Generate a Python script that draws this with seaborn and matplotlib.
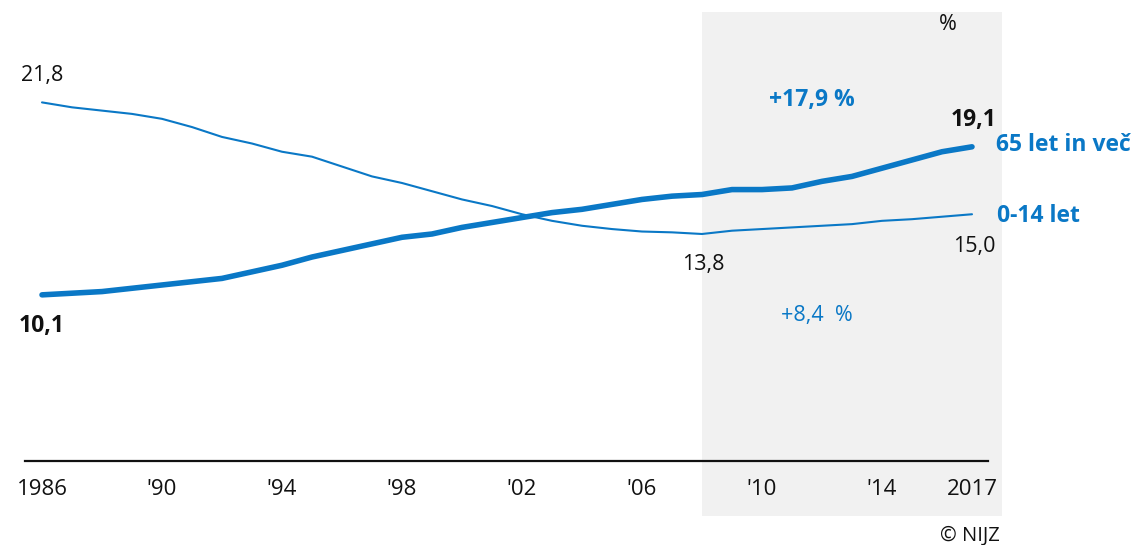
import numpy as np
import pandas as pd
import matplotlib
matplotlib.use("Agg")
import matplotlib.pyplot as plt
import seaborn as sns
from matplotlib.patches import Rectangle

years = list(range(1986, 2018))
age_0_14 = [21.8, 21.5, 21.3, 21.1, 20.8, 20.3, 19.7, 19.3, 18.8, 18.5,
            17.9, 17.3, 16.9, 16.4, 15.9, 15.5, 15.0, 14.6, 14.3, 14.1,
            13.95, 13.9, 13.8, 14.0, 14.1, 14.2, 14.3, 14.4, 14.6, 14.7,
            14.85, 15.0]
age_65_plus = [10.1, 10.2, 10.3, 10.5, 10.7, 10.9, 11.1, 11.5, 11.9, 12.4,
               12.8, 13.2, 13.6, 13.8, 14.2, 14.5, 14.8, 15.1, 15.3, 15.6,
               15.9, 16.1, 16.2, 16.5, 16.5, 16.6, 17.0, 17.3, 17.8, 18.3,
               18.8, 19.1]
tick_years = [1986, 1990, 1994, 1998, 2002, 2006, 2010, 2014, 2017]
tick_labels = ["1986", "'90", "'94", "'98", "'02", "'06", "'10", "'14", "2017"]
series_names = ["65 let in več", "0-14 let"]
change_labels = ["+17,9 %", "+8,4  %"]
shade_start, shade_end = 2008, 2018

BLUE = "#0a78c6"
INK = "#111111"

sns.set_theme(style="white")
plt.rcParams["font.family"] = ["Open Sans", "DejaVu Sans"]

df = pd.DataFrame({"year": years, "0-14": age_0_14, "65+": age_65_plus})

W, H = 1138, 545
fig = plt.figure(figsize=(W / 100, H / 100), dpi=100)
ax = fig.add_axes([25 / W, 84 / H, 963 / W, 461 / H])

ax.set_xlim(1986 - 17 / 30, 1986 + 946 / 30)
ax.set_ylim(0, 461 / 16.45)

# shaded period
ax.add_patch(Rectangle((shade_start, -55 / 16.45), shade_end - shade_start,
                       (461 - 12 + 55) / 16.45, facecolor="#f1f1f1",
                       edgecolor="none", zorder=0, clip_on=False))

sns.lineplot(data=df, x="year", y="0-14", ax=ax, color=BLUE, linewidth=1.5,
             zorder=3)
sns.lineplot(data=df, x="year", y="65+", ax=ax, color=BLUE, linewidth=4.0,
             zorder=4, solid_capstyle="round")

for s in ["top", "right", "left"]:
    ax.spines[s].set_visible(False)
ax.spines["bottom"].set_color(INK)
ax.spines["bottom"].set_linewidth(1.6)
ax.spines["bottom"].set_zorder(5)

ax.set_xticks(tick_years)
ax.set_xticklabels(tick_labels)
ax.tick_params(axis="x", length=0, pad=13, labelsize=16, labelcolor=INK)
ax.set_yticks([])
ax.set_xlabel("")
ax.set_ylabel("")
ax.patch.set_alpha(0)

fs = 15.5
fsb = 16.5
def ann(txt, x, y, dx, dy, **kw):
    ax.annotate(txt, (x, y), xytext=(dx, dy), textcoords="offset pixels",
                annotation_clip=False, **kw)

i_min = int(np.argmin(age_0_14))
ann("21,8", years[0], age_0_14[0], 0, 27, ha="center", va="center",
    color=INK, fontsize=fs)
ann("10,1", years[0], age_65_plus[0], 0, -31, ha="center", va="center",
    color=INK, fontweight="bold", fontsize=fsb)
ann("13,8", years[i_min], age_0_14[i_min], 1, -31, ha="center", va="center",
    color=INK, fontsize=fs)
ann("15,0", years[-1], age_0_14[-1], 2, -32, ha="center", va="center",
    color=INK, fontsize=fs)
ann("19,1", years[-1], age_65_plus[-1], 2, 27, ha="center", va="center",
    color=INK, fontweight="bold", fontsize=fsb)
ann(series_names[0], years[-1], age_65_plus[-1], 24, 2, ha="left",
    va="center", color=BLUE, fontweight="bold", fontsize=fsb)
ann(series_names[1], years[-1], age_0_14[-1], 25, -2, ha="left",
    va="center", color=BLUE, fontweight="bold", fontsize=fsb)

ax.text(1986 + 770 / 30, (461 - 100) / 16.45, change_labels[0], ha="center",
        va="center", fontsize=fsb, color=BLUE, fontweight="bold")
ax.text(1986 + 775 / 30, (461 - 315) / 16.45, change_labels[1], ha="center",
        va="center", fontsize=fs, color=BLUE)
ax.text(1986 + 906 / 30, (461 - 24) / 16.45, "%", ha="center", va="center",
        fontsize=fs, color=INK)
fig.text(1000 / W, 1 - 536 / H, "© NIJZ", ha="right", va="center",
         fontsize=14.5, color=INK)

fig.savefig("out.png", dpi=100)
